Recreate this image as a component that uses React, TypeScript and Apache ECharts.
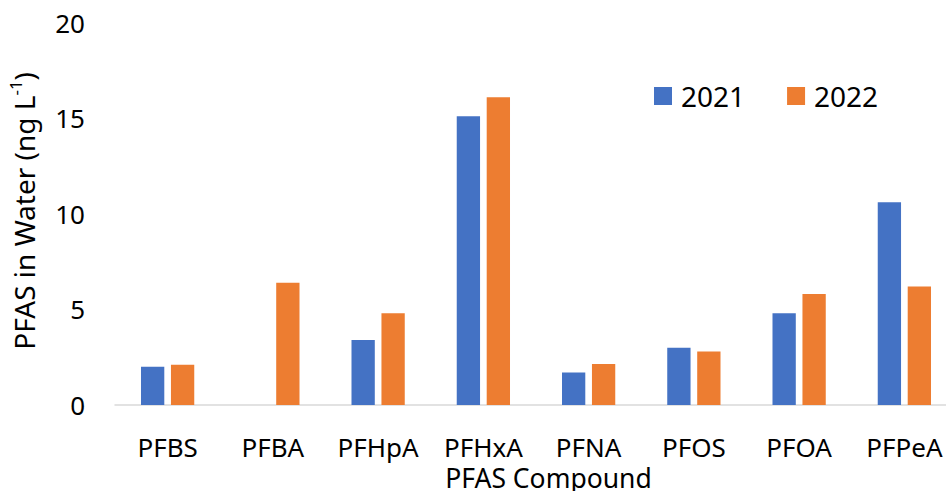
import React, { useEffect, useRef } from "react";
import * as echarts from "echarts";

const compounds = ["PFBS", "PFBA", "PFHpA", "PFHxA", "PFNA", "PFOS", "PFOA", "PFPeA"];
const values2021 = [2.0, 0, 3.4, 15.1, 1.7, 3.0, 4.8, 10.6];
const values2022 = [2.1, 6.4, 4.8, 16.1, 2.15, 2.8, 5.8, 6.2];
const seriesNames = ["2021", "2022"];
const yTicks = { min: 0, max: 20, interval: 5 };

const FONT = "'Noto Sans', sans-serif";
const BLUE = "#4472C4";
const ORANGE = "#ED7D31";

export default function App() {
  const ref = useRef<HTMLDivElement>(null);

  useEffect(() => {
    if (!ref.current) return;
    const chart = echarts.init(ref.current, undefined, { renderer: "svg" });
    chart.setOption({
      animation: false,
      textStyle: { fontFamily: FONT, color: "#000" },
      grid: {
        left: 115,
        right: 13,
        top: 22.6,
        bottom: 86,
        containLabel: false,
        outerBoundsMode: "none",
      },
      legend: {
        data: seriesNames,
        left: 654,
        top: 82,
        padding: 0,
        icon: "rect",
        itemWidth: 18,
        itemHeight: 18,
        itemGap: 42,
        textStyle: { fontFamily: FONT, fontSize: 28, color: "#000", padding: [0, 0, 0, 4] },
      },
      xAxis: {
        type: "category",
        data: compounds,
        name: "PFAS Compound",
        nameLocation: "middle",
        nameGap: 56,
        nameTextStyle: {
          fontFamily: FONT,
          fontSize: 26.5,
          lineHeight: 24,
          color: "#000",
          padding: [0, 0, 0, 25],
        },
        axisLine: { lineStyle: { color: "#D9D9D9", width: 1.5 } },
        axisTick: { show: false },
        axisLabel: {
          interval: 0,
          fontFamily: FONT,
          fontSize: 26,
          lineHeight: 24,
          color: "#000",
          margin: 30,
        },
      },
      yAxis: {
        type: "value",
        min: yTicks.min,
        max: yTicks.max,
        interval: yTicks.interval,
        name: "{a|PFAS in Water (ng L}{s|-1}{a|)}",
        nameLocation: "middle",
        nameRotate: 90,
        nameGap: 74,
        nameTextStyle: {
          padding: [0, 0, 0, 6],
          rich: {
            a: { fontFamily: FONT, fontSize: 28, color: "#000", lineHeight: 34 },
            s: { fontFamily: FONT, fontSize: 17, color: "#000", lineHeight: 17, verticalAlign: "top" },
          },
        },
        axisLine: { show: false },
        axisTick: { show: false },
        splitLine: { show: false },
        axisLabel: { fontFamily: FONT, fontSize: 26, color: "#000", margin: 30 },
      },
      series: [
        {
          name: seriesNames[0],
          type: "bar",
          data: values2021,
          barWidth: 23.3,
          barGap: "28.6%",
          itemStyle: { color: BLUE },
        },
        {
          name: seriesNames[1],
          type: "bar",
          data: values2022,
          barWidth: 23.3,
          barGap: "28.6%",
          itemStyle: { color: ORANGE },
        },
      ],
    });
    return () => chart.dispose();
  }, []);

  return (
    <div
      style={{
        position: "fixed",
        left: 0,
        top: 0,
        width: 946,
        height: 491,
        overflow: "hidden",
        background: "#fff",
      }}
    >
      <div ref={ref} style={{ width: 970, height: 491 }} />
    </div>
  );
}
